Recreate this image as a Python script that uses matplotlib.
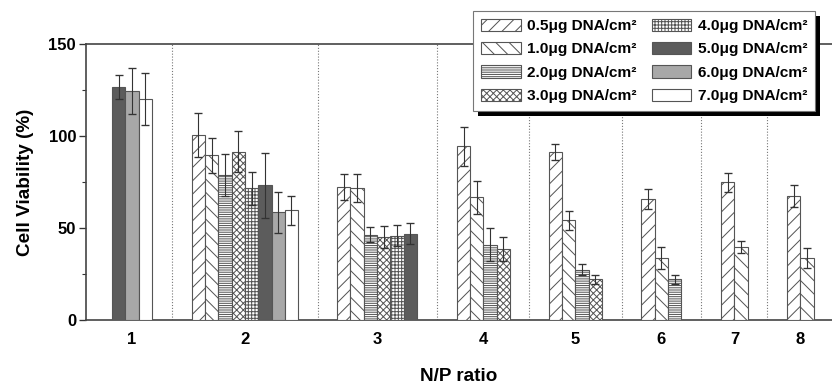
import numpy as np
import matplotlib
matplotlib.use("Agg")
import matplotlib.pyplot as plt
from matplotlib.patches import Rectangle

plt.rcParams.update({
    'font.family': ['Liberation Sans', 'DejaVu Sans'],
    'font.weight': 'bold',
    'hatch.linewidth': 0.9,
})

# N/P ratio groups
np_ratios = ['1', '2', '3', '4', '5', '6', '7', '8']

# series: DNA dose, values (%) and errors, NaN = not measured
doses = ['0.5', '1.0', '2.0', '3.0', '4.0', '5.0', '6.0', '7.0']
nan = np.nan
viab_05 = [nan, 100.5, 72.4, 94.5, 91.3, 65.8, 74.9, 67.3]
viab_10 = [nan, 89.5, 71.8, 66.7, 54.2, 33.6, 39.6, 33.6]
viab_20 = [nan, 78.7, 46.4, 40.9, 27.3, 22.2, nan, nan]
viab_30 = [nan, 91.5, 44.9, 38.5, 22.2, nan, nan, nan]
viab_40 = [nan, 71.6, 45.8, nan, nan, nan, nan, nan]
viab_50 = [126.4, 73.1, 46.9, nan, nan, nan, nan, nan]
viab_60 = [124.2, 58.5, nan, nan, nan, nan, nan, nan]
viab_70 = [120.0, 59.6, nan, nan, nan, nan, nan, nan]

err_05 = [nan, 12.0, 7.2, 10.6, 4.2, 5.5, 5.1, 5.8]
err_10 = [nan, 9.5, 7.8, 9.0, 5.3, 6.0, 3.1, 5.5]
err_20 = [nan, 11.5, 4.0, 9.0, 3.1, 2.4, nan, nan]
err_30 = [nan, 11.0, 6.0, 6.6, 2.4, nan, nan, nan]
err_40 = [nan, 9.0, 5.8, nan, nan, nan, nan, nan]
err_50 = [6.5, 17.5, 5.8, nan, nan, nan, nan, nan]
err_60 = [12.5, 11.0, nan, nan, nan, nan, nan, nan]
err_70 = [14.0, 7.7, nan, nan, nan, nan, nan, nan]

values = np.array([viab_05, viab_10, viab_20, viab_30, viab_40, viab_50, viab_60, viab_70])
errors = np.array([err_05, err_10, err_20, err_30, err_40, err_50, err_60, err_70])

# layout: group centres in bar-width units (groups are unevenly spaced)
group_centers = [3.46, 11.95, 21.88, 29.89, 36.8, 43.27, 48.76, 53.72]
x_right = 56.1

# styles per dose
faces = ['white', 'white', 'white', 'white', 'white', '#5c5c5c', '#a8a8a8', 'white']
hatches = ['//', '\\\\', '------', 'xxxx', '++++', '', '', '']
edge = '#555555'

fig = plt.figure(figsize=(10.4, 4.85), dpi=80)
ax = fig.add_axes([86 / 832, 1 - 320 / 388, 746 / 832, 276 / 388])

# bar positions: present bars of each group packed and centred
xpos = np.full(values.shape, nan)
for g, c in enumerate(group_centers):
    present = [s for s in range(len(doses)) if not np.isnan(values[s, g])]
    n = len(present)
    for k, s in enumerate(present):
        xpos[s, g] = c + (k - (n - 1) / 2)

handles = []
for s, d in enumerate(doses):
    m = ~np.isnan(values[s])
    b = ax.bar(xpos[s, m], values[s, m], width=1.0, color=faces[s],
               edgecolor=edge, linewidth=1.0, hatch=hatches[s], zorder=3)
    ax.errorbar(xpos[s, m], values[s, m], yerr=errors[s, m], fmt='none',
                ecolor='#333333', elinewidth=1.0, capsize=3.5, capthick=1.2, zorder=4)
    handles.append(b)

# dotted separators halfway between neighbouring groups
for g in range(len(group_centers) - 1):
    n1 = np.sum(~np.isnan(values[:, g]))
    n2 = np.sum(~np.isnan(values[:, g + 1]))
    right_edge = group_centers[g] + n1 / 2
    left_edge = group_centers[g + 1] - n2 / 2
    ax.axvline((right_edge + left_edge) / 2, color='#777777', linestyle=(0, (1, 1.6)),
               linewidth=1.0, zorder=1)

ax.set_xlim(0, x_right)
ax.set_ylim(0, 150)
ax.set_xticks(group_centers)
ax.set_xticklabels(np_ratios)
ax.set_yticks([0, 50, 100, 150])
ax.set_yticks([25, 75, 125], minor=True)

ax.tick_params(axis='x', length=0, pad=11, labelsize=15)
ax.tick_params(axis='y', which='major', length=6, width=1.2, labelsize=15, pad=3,
               color='#333333')
ax.tick_params(axis='y', which='minor', length=4, width=1.0, color='#333333')

for side in ['left', 'bottom', 'top']:
    ax.spines[side].set_linewidth(1.5)
    ax.spines[side].set_color('#444444')
ax.spines['right'].set_visible(False)

ax.set_ylabel('Cell Viability (%)', fontsize=17, fontweight='bold', labelpad=13)
ax.set_xlabel('N/P ratio', fontsize=17, fontweight='bold', labelpad=19)

labels = [f'{d}\u03bcg DNA/cm\u00b2' for d in doses]
leg = fig.legend(handles, labels, ncol=2, loc='upper left',
                 bbox_to_anchor=(473 / 832, 1 - 11 / 388), bbox_transform=fig.transFigure,
                 borderaxespad=0, frameon=True, fancybox=False, shadow=False,
                 prop={'family': ['Liberation Sans', 'DejaVu Sans'], 'weight': 'bold', 'size': 13.8},
                 handlelength=2.6, handleheight=0.85, handletextpad=0.4,
                 columnspacing=1.0, labelspacing=0.58, borderpad=0.5)
leg.get_frame().set_edgecolor('#777777')
leg.get_frame().set_linewidth(1.0)
leg.get_frame().set_alpha(1)
leg.set_zorder(6)

# solid black drop shadow behind the legend
fig.canvas.draw()
bb = leg.get_window_extent().transformed(fig.transFigure.inverted())
dx, dy = 5 / 832, 5 / 388
fig.patches.append(Rectangle((bb.x0 + dx, bb.y0 - dy), bb.width, bb.height,
                             transform=fig.transFigure, facecolor='black',
                             edgecolor='none', zorder=5))

fig.savefig('out.png', dpi=80)
